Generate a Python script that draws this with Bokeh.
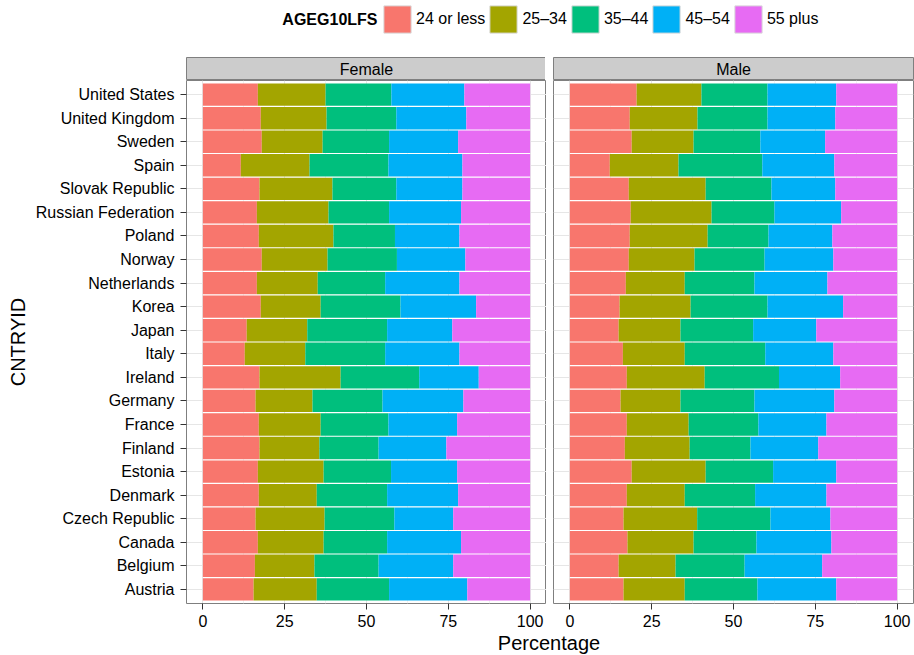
import math
from bokeh.plotting import figure
from bokeh.models import (ColumnDataSource, FactorRange, Range1d, FixedTicker,
                          Label, Legend, LegendItem)
from bokeh.layouts import column, row
from bokeh.embed import file_html
from bokeh.resources import INLINE

# ---------------- data ----------------
countries = ["United States", "United Kingdom", "Sweden", "Spain", "Slovak Republic",
             "Russian Federation", "Poland", "Norway", "Netherlands", "Korea", "Japan",
             "Italy", "Ireland", "Germany", "France", "Finland", "Estonia", "Denmark",
             "Czech Republic", "Canada", "Belgium", "Austria"]
age_groups = ["24 or less", "25\u201334", "35\u201344", "45\u201354", "55 plus"]
colors = ["#F8766D", "#A3A500", "#00BF7D", "#00B0F6", "#E76BF3"]
facets = ["Female", "Male"]

female_24 = [16.8, 17.7, 18.0, 11.6, 17.3, 16.5, 17.1, 18.0, 16.5, 17.7, 13.4,
             12.8, 17.3, 16.1, 17.1, 17.3, 16.8, 17.1, 16.1, 16.8, 15.9, 15.5]
female_25 = [20.7, 20.1, 18.6, 21.0, 22.3, 21.9, 22.8, 20.1, 18.6, 18.3, 18.5,
             18.5, 24.8, 17.4, 18.9, 18.3, 20.1, 17.7, 21.1, 20.1, 18.2, 19.3]
female_35 = [20.1, 21.3, 20.3, 24.1, 19.5, 18.5, 18.8, 21.2, 20.6, 24.4, 24.4,
             24.4, 24.0, 21.4, 20.7, 18.1, 20.6, 21.5, 21.3, 19.4, 19.6, 22.1]
female_45 = [22.3, 21.4, 21.1, 22.6, 20.2, 22.0, 19.7, 20.9, 22.7, 23.1, 19.9,
             22.7, 18.2, 24.7, 21.0, 20.7, 20.2, 21.7, 18.0, 22.6, 22.8, 23.9]
female_55 = [20.1, 19.5, 22.0, 20.7, 20.7, 21.1, 21.6, 19.8, 21.6, 16.5, 23.8,
             21.6, 15.7, 20.4, 22.3, 25.6, 22.3, 22.0, 23.5, 21.1, 23.5, 19.2]

male_24 = [20.4, 18.3, 18.9, 12.2, 18.0, 18.6, 18.3, 18.0, 17.1, 15.2, 14.9,
           16.2, 17.4, 15.5, 17.4, 16.8, 18.9, 17.4, 16.4, 17.6, 14.9, 16.4]
male_25 = [19.8, 20.7, 18.9, 21.0, 23.5, 24.7, 23.8, 20.1, 18.0, 21.7, 18.9,
           18.9, 23.8, 18.3, 18.9, 19.8, 22.6, 17.7, 22.5, 20.2, 17.4, 18.7]
male_35 = [20.2, 21.4, 20.4, 25.6, 20.1, 19.2, 18.6, 21.4, 21.3, 23.5, 22.2,
           24.6, 22.7, 22.6, 21.3, 18.6, 20.6, 21.5, 22.4, 19.2, 21.1, 22.2]
male_45 = [21.0, 20.7, 19.8, 22.0, 19.5, 20.4, 19.5, 21.0, 22.3, 23.1, 19.3,
           20.8, 18.7, 24.4, 20.8, 20.7, 19.3, 21.8, 18.3, 22.9, 23.7, 24.1]
male_55 = [18.6, 18.9, 22.0, 19.2, 18.9, 17.1, 19.8, 19.5, 21.3, 16.5, 24.7,
           19.5, 17.4, 19.2, 21.6, 24.1, 18.6, 21.6, 20.4, 20.1, 22.9, 18.6]

x_ticks = [0, 25, 50, 75, 100]
x_minor = [12.5, 37.5, 62.5, 87.5]

# ---------------- style ----------------
FONT = "Liberation Sans"
GREY50 = "#7F7F7F"
STRIP = "#CCCCCC"
GRID = "#E6E6E6"
GRID_MINOR = "#F2F2F2"
FW, FH = 360, 523
YLAB_W = 32
LEFT_AX = 153
GAP = 7
RIGHT_PAD = 2
STRIP_H = 23
BOTTOM_AX = 30
LEG_H = 57
XLAB_H = 21
INNER_W = FW + GAP + FW
LEFT_ALL = YLAB_W + LEFT_AX

stackers = ["g1", "g2", "g3", "g4", "g5"]
factors = list(reversed(countries))


def blank(width_frame, height_frame, mbl=0, mbr=0, mbt=0, mbb=0):
    f = figure(frame_width=width_frame, frame_height=height_frame,
               x_range=Range1d(0, width_frame), y_range=Range1d(0, height_frame),
               x_axis_type=None, y_axis_type=None,
               min_border_left=mbl, min_border_right=mbr,
               min_border_top=mbt, min_border_bottom=mbb,
               output_backend="svg", toolbar_location=None)
    f.outline_line_color = None
    f.background_fill_color = "white"
    f.border_fill_color = "white"
    return f


def strip(title, mbl, mbr):
    s = blank(FW, STRIP_H, mbl=mbl, mbr=mbr)
    s.background_fill_color = STRIP
    s.outline_line_color = GREY50
    s.outline_line_width = 1
    s.add_layout(Label(x=FW / 2, y=STRIP_H / 2, text=title, text_align="center",
                       text_baseline="middle", text_font=FONT,
                       text_font_size="16px", text_color="black"))
    return s


def panel(vals, show_y, mbl, mbr):
    src = ColumnDataSource(dict(country=countries,
                                **{k: v for k, v in zip(stackers, vals)}))
    p = figure(y_range=FactorRange(factors=factors, range_padding=0.1,
                                   range_padding_units="absolute"),
               x_range=Range1d(-5, 105),
               frame_width=FW, frame_height=FH,
               min_border_left=mbl, min_border_right=mbr,
               min_border_top=0, min_border_bottom=BOTTOM_AX,
               output_backend="svg", toolbar_location=None)
    p.hbar_stack(stackers, y="country", height=0.95, fill_color=colors,
                 line_color=None, source=src)
    p.outline_line_color = GREY50
    p.outline_line_width = 1
    p.background_fill_color = "white"
    p.border_fill_color = "white"

    p.xaxis.ticker = FixedTicker(ticks=x_ticks, minor_ticks=x_minor)
    p.xaxis.axis_line_color = None
    p.xaxis.major_tick_in = 0
    p.xaxis.major_tick_out = 6
    p.xaxis.major_tick_line_color = "#333333"
    p.xaxis.minor_tick_line_color = None
    p.xaxis.major_label_standoff = 5
    p.xaxis.major_label_text_font = FONT
    p.xaxis.major_label_text_font_size = "16px"
    p.xaxis.major_label_text_color = "black"

    p.xgrid.grid_line_color = GRID
    p.xgrid.grid_line_width = 1
    p.xgrid.minor_grid_line_color = GRID_MINOR
    p.xgrid.minor_grid_line_width = 1
    p.ygrid.grid_line_color = GRID
    p.ygrid.grid_line_width = 1

    if show_y:
        p.yaxis.axis_line_color = None
        p.yaxis.major_tick_in = 0
        p.yaxis.major_tick_out = 6
        p.yaxis.major_tick_line_color = "#333333"
        p.yaxis.major_label_standoff = 6
        p.yaxis.major_label_text_font = FONT
        p.yaxis.major_label_text_font_size = "16px"
        p.yaxis.major_label_text_color = "black"
    else:
        p.yaxis.visible = False
    return p


fem_vals = [female_24, female_25, female_35, female_45, female_55]
mal_vals = [male_24, male_25, male_35, male_45, male_55]

strip_f = strip(facets[0], LEFT_AX, 0)
panel_f = panel(fem_vals, True, LEFT_AX, 0)
strip_m = strip(facets[1], GAP, RIGHT_PAD)
panel_m = panel(mal_vals, False, GAP, RIGHT_PAD)

# y-axis title
ylab = blank(YLAB_W, FH, mbt=STRIP_H, mbb=BOTTOM_AX)
ylab.add_layout(Label(x=17, y=FH / 2, text="CNTRYID", angle=math.pi / 2,
                      text_align="center", text_baseline="middle",
                      text_font=FONT, text_font_size="20px", text_color="black"))

# x-axis title
xlab = blank(INNER_W, XLAB_H, mbl=LEFT_ALL, mbr=RIGHT_PAD)
xlab.add_layout(Label(x=INNER_W / 2, y=12, text="Percentage", text_align="center",
                      text_baseline="middle", text_font=FONT,
                      text_font_size="20px", text_color="black"))

# legend strip (same horizontal frame as the panels)
lf = blank(INNER_W, LEG_H, mbl=LEFT_ALL, mbr=RIGHT_PAD)
items = []
for name, c in zip(age_groups, colors):
    r = lf.hbar(y=[float("nan")], right=[float("nan")], height=1, fill_color=c,
                line_color="#D9D9D9", line_width=1)
    items.append(LegendItem(label=name, renderers=[r]))
LEG_X = 195
LEG_Y = 21
legend = Legend(items=items, orientation="horizontal", location=(LEG_X, LEG_Y),
                glyph_width=34, glyph_height=34, label_standoff=2, spacing=1,
                padding=0, margin=0, border_line_color=None,
                background_fill_alpha=0, label_text_font=FONT,
                label_text_font_size="16px", label_text_color="black")
lf.add_layout(legend)
lf.add_layout(Label(x=LEG_X - 3, y=LEG_Y + 17, text="AGEG10LFS", text_align="right",
                    text_baseline="middle", text_font=FONT, text_font_size="16px",
                    text_font_style="bold", text_color="black"))

layout = column(lf,
                row(ylab, column(strip_f, panel_f), column(strip_m, panel_m)),
                xlab)

open("out.html", "w").write(file_html(layout, INLINE))
